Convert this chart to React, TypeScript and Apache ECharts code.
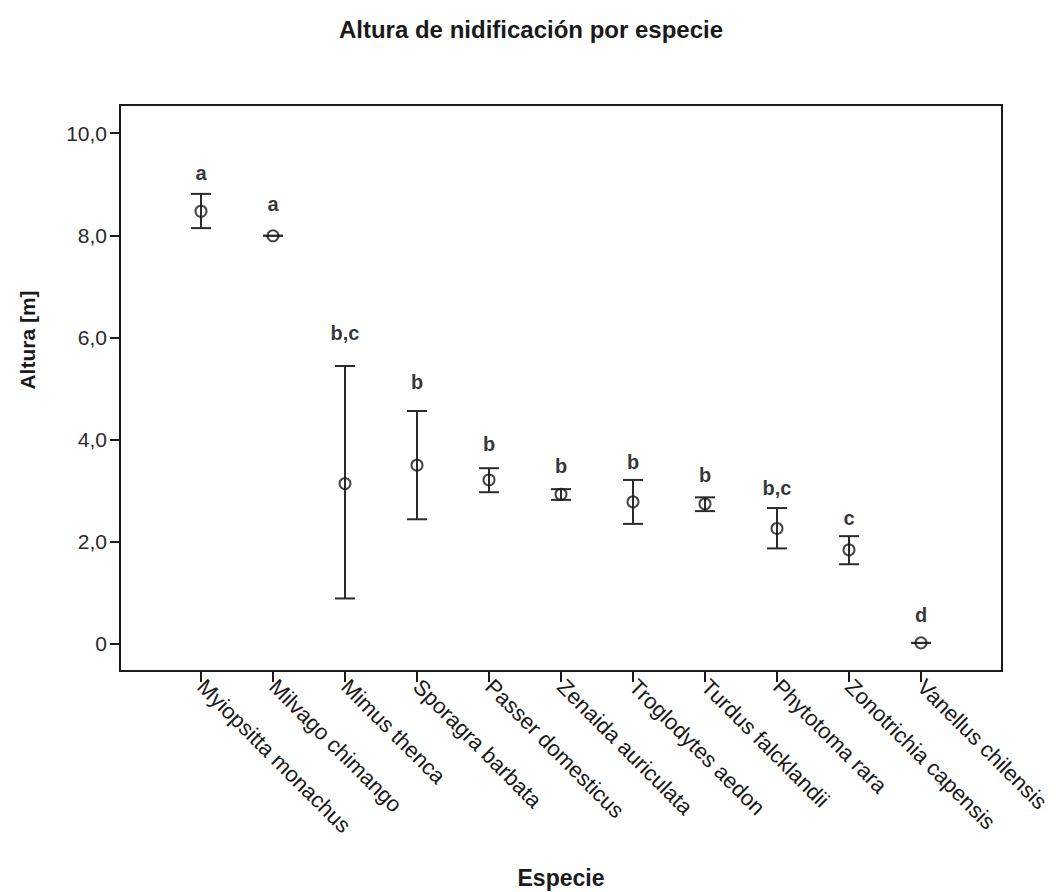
import React, { useEffect, useRef } from "react";
import * as echarts from "echarts";

const categories = [
  "Myiopsitta monachus",
  "Milvago chimango",
  "Mimus thenca",
  "Sporagra barbata",
  "Passer domesticus",
  "Zenaida auriculata",
  "Troglodytes aedon",
  "Turdus falcklandii",
  "Phytotoma rara",
  "Zonotrichia capensis",
  "Vanellus chilensis",
];
const means = [8.47, 7.99, 3.14, 3.5, 3.21, 2.93, 2.78, 2.74, 2.26, 1.84, 0.02];
const upper = [8.81, 7.99, 5.44, 4.56, 3.44, 3.03, 3.21, 2.87, 2.66, 2.11, 0.02];
const lower = [8.14, 7.99, 0.89, 2.44, 2.97, 2.82, 2.35, 2.6, 1.87, 1.56, 0.02];
const letters = ["a", "a", "b,c", "b", "b", "b", "b", "b", "b,c", "c", "d"];
const letterY = [9.22, 8.61, 6.08, 5.13, 3.91, 3.48, 3.57, 3.31, 3.05, 2.47, 0.57];
const yTicks = [0, 2, 4, 6, 8, 10];
const xTicks = categories.map((_, i) => i);

const FONT = "'Liberation Sans', Arial, sans-serif";
const INK = "#1a1a1a";

export default function App() {
  const ref = useRef<HTMLDivElement>(null);
  useEffect(() => {
    if (!ref.current) return;
    const chart = echarts.init(ref.current, null, { renderer: "svg" });
    chart.setOption({
      animation: false,
      backgroundColor: "#ffffff",
      title: {
        text: "Altura de nidificación por especie",
        left: "center",
        top: 12,
        textStyle: { fontFamily: FONT, fontSize: 24, fontWeight: "bold", color: INK },
      },
      grid: {
        left: 120,
        right: 60,
        top: 105,
        bottom: 221,
        show: true,
        borderColor: INK,
        borderWidth: 2,
        backgroundColor: "transparent",
      },
      xAxis: {
        type: "value",
        min: -1.125,
        max: 11.125,
        splitLine: { show: false },
        axisLine: { show: true, onZero: false, lineStyle: { color: INK, width: 2 } },
        axisTick: { show: true, customValues: xTicks, length: 11, lineStyle: { color: INK, width: 2 } },
        axisLabel: {
          customValues: xTicks,
          rotate: -45,
          margin: 12,
          fontFamily: FONT,
          fontSize: 22,
          color: INK,
          formatter: (v: number) => categories[Math.round(v)] ?? "",
        },
      },
      yAxis: {
        type: "value",
        min: -0.53,
        max: 10.55,
        splitLine: { show: false },
        axisLine: { show: true, onZero: false, lineStyle: { color: INK, width: 2 } },
        axisTick: { show: true, customValues: yTicks, length: 10, lineStyle: { color: INK, width: 2 } },
        axisLabel: {
          customValues: yTicks,
          margin: 13,
          fontFamily: FONT,
          fontSize: 21,
          color: "#2a2a2a",
          formatter: (v: number) => (v === 0 ? "0" : v.toFixed(1).replace(".", ",")),
        },
      },
      graphic: [
        {
          type: "text",
          x: 27,
          y: 340,
          rotation: Math.PI / 2,
          style: {
            text: "Altura [m]",
            fontFamily: FONT,
            fontSize: 21,
            fontWeight: "bold",
            fill: INK,
            align: "center",
            verticalAlign: "middle",
          },
        },
        {
          type: "text",
          x: 561,
          y: 878,
          style: {
            text: "Especie",
            fontFamily: FONT,
            fontSize: 23,
            fontWeight: "bold",
            fill: INK,
            align: "center",
            verticalAlign: "middle",
          },
        },
      ],
      series: [
        {
          type: "custom",
          data: categories.map((_, i) => [i, lower[i], upper[i]]),
          renderItem: (params: any, api: any) => {
            const x = api.value(0);
            const lo = api.coord([x, api.value(1)]);
            const hi = api.coord([x, api.value(2)]);
            const hw = 10;
            const st = { stroke: "#2b2b2b", lineWidth: 2 };
            return {
              type: "group",
              children: [
                { type: "line", shape: { x1: lo[0], y1: lo[1], x2: hi[0], y2: hi[1] }, style: st },
                { type: "line", shape: { x1: lo[0] - hw, y1: lo[1], x2: lo[0] + hw, y2: lo[1] }, style: st },
                { type: "line", shape: { x1: hi[0] - hw, y1: hi[1], x2: hi[0] + hw, y2: hi[1] }, style: st },
              ],
            };
          },
          z: 2,
        },
        {
          type: "scatter",
          data: means.map((m, i) => [i, m]),
          symbol: "circle",
          symbolSize: 11,
          itemStyle: { color: "transparent", borderColor: INK, borderWidth: 2 },
          z: 3,
        },
        {
          type: "scatter",
          data: letterY.map((y, i) => [i, y]),
          symbolSize: 0,
          itemStyle: { color: "transparent" },
          label: {
            show: true,
            position: "inside",
            fontFamily: FONT,
            fontSize: 20,
            fontWeight: "bold",
            color: "#000",
            textBorderWidth: 0,
            formatter: (p: any) => letters[p.dataIndex],
          },
          z: 4,
        },
      ],
    });
    return () => chart.dispose();
  }, []);
  return (
    <div
      ref={ref}
      style={{ position: "absolute", left: 0, top: 0, width: 1062, height: 892, background: "#fff" }}
    />
  );
}
